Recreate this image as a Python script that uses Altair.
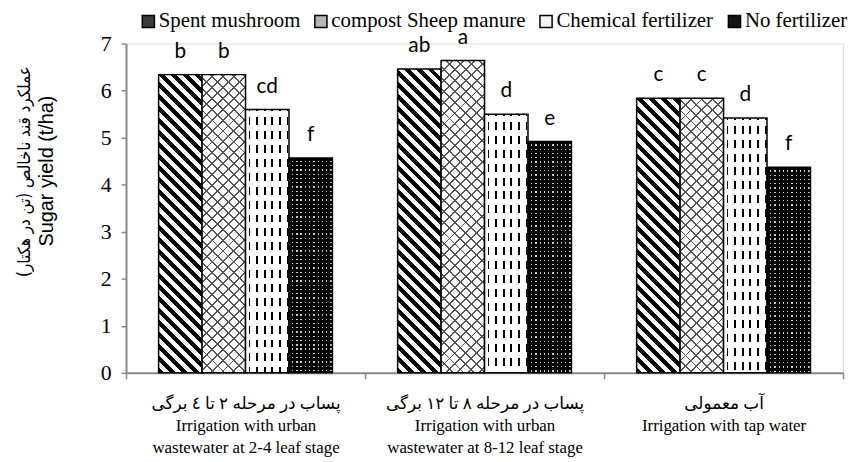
import altair as alt
import pandas as pd

# ---------------- data ----------------
categories = [
    "پساب در مرحله ۲ تا ٤ برگی|Irrigation with urban|wastewater at 2-4 leaf stage",
    "پساب در مرحله ۸ تا ۱۲ برگی|Irrigation with urban|wastewater  at 8-12 leaf stage",
    "آب معمولی|Irrigation with tap water",
]
series = ["Spent mushroom", "compost Sheep manure", "Chemical fertilizer", "No fertilizer"]

spent_vals = [6.34, 6.46, 5.84]
compost_vals = [6.34, 6.64, 5.84]
chem_vals = [5.60, 5.50, 5.42]
nofert_vals = [4.57, 4.92, 4.37]

spent_letters = ["b", "ab", "c"]
compost_letters = ["b", "a", "c"]
chem_letters = ["cd", "d", "d"]
nofert_letters = ["f", "e", "f"]

y_ticks = [0, 1, 2, 3, 4, 5, 6, 7]
y_title_fa = "عملکرد قند ناخالص (تن در هکتار)"
y_title_en = "Sugar yield (t/ha)"

# ---------------- table ----------------
vals = [spent_vals, compost_vals, chem_vals, nofert_vals]
lets = [spent_letters, compost_letters, chem_letters, nofert_letters]
rows = []
for si, s in enumerate(series):
    for ci, c in enumerate(categories):
        rows.append({"cat": c, "series": s, "value": vals[si][ci],
                     "letter": lets[si][ci], "sidx": si, "cidx": ci})
df = pd.DataFrame(rows)

# ---------------- geometry of the plot (style) ----------------
W, H = 723, 332
YMAX = 7
STEP = W / len(categories)
PAD_OUT = 0.75
BAR_W = STEP / (len(series) + 2 * PAD_OUT)
SERIF = "Liberation Serif, Times New Roman, DejaVu Sans"

TR = "rgba(0,0,0,0)"


def stripes(x1, y1, x2, y2, L, period, on_w, c_on, c_off, phase=0.0):
    stops = []
    s = phase - period
    while s < L + period:
        a, b, c = s, s + on_w, s + period
        for off, col in ((a, c_on), (b, c_on), (b, c_off), (c, c_off)):
            t = min(max(off / L, 0.0), 1.0)
            stops.append({"offset": round(t, 5), "color": col})
        s += period
    return {"gradient": "linear", "x1": x1, "y1": y1, "x2": x2, "y2": y2, "stops": stops}


def diag(h, period, on_w, c_on, c_off, back=True):
    w = BAR_W
    L = w + h
    k = (w + h) * w / (w * w + h * h)
    if back:   # "\" stripes
        return stripes(0, 1, k, 1 - k * h / w, L, period, on_w, c_on, c_off)
    return stripes(0, 0, k, k * h / w, L, period, on_w, c_on, c_off)


def vert(period, on_w, c_on, c_off, phase=0.0):
    return stripes(0, 0, 1, 0, BAR_W, period, on_w, c_on, c_off, phase)


def horiz(h, period, on_w, c_on, c_off, phase=0.0):
    return stripes(0, 0, 0, 1, h, period, on_w, c_on, c_off, phase)


x_enc = alt.X("cat:N", sort=categories,
              scale=alt.Scale(domain=categories, paddingInner=0, paddingOuter=0),
              axis=alt.Axis(title=None, labelExpr="split(datum.label, '|')", labelAngle=0,
                            labelFont=SERIF, labelFontSize=17, labelLimit=500,
                            labelLineHeight=22, labelPadding=17, labelColor="black",
                            labelBaseline="top", tickBand="extent", tickSize=6,
                            tickColor="#888", tickWidth=1.5, domainColor="#888",
                            domainWidth=2))
xo_enc = alt.XOffset("series:N", sort=series,
                     scale=alt.Scale(domain=series, paddingInner=0, paddingOuter=PAD_OUT))
y_enc = alt.Y("value:Q", scale=alt.Scale(domain=[0, YMAX], nice=False),
              axis=alt.Axis(values=y_ticks, grid=False, tickSize=5, tickColor="#888",
                            tickWidth=1.5, domainColor="#888", domainWidth=2,
                            labelFont=SERIF, labelFontSize=22,
                            labelColor="black", labelPadding=10,
                            title=y_title_en, titleFont="Liberation Sans",
                            titleFontSize=20, titleFontWeight="normal", titleColor="black",
                            titleX=-80, titleY=128,
                            titleBaseline="middle", titleAlign="center", titleAngle=270))

base = alt.Chart(df).mark_bar(strokeWidth=0).encode(
    x=x_enc, xOffset=xo_enc, y=y_enc,
    fill=alt.Fill("series:N", sort=series,
                  scale=alt.Scale(domain=series,
                                  range=["#3a3a3a", "#b5b5b5", "#f2f2f2", "#151515"]),
                  legend=alt.Legend(title=None, orient="none", legendX=12, legendY=-33,
                                    direction="horizontal", columns=4, columnPadding=10,
                                    labelFont=SERIF, labelFontSize=21,
                                    labelColor="black", labelOffset=0, symbolType="square",
                                    symbolSize=150, symbolStrokeColor="black",
                                    symbolStrokeWidth=1.5, labelLimit=400)),
)

layers = [base]


def bar_layer(ci, si, fill, stroke):
    ch = alt.Chart(df).transform_filter(
        (alt.datum.cidx == ci) & (alt.datum.sidx == si))
    if stroke:
        m = ch.mark_bar(fill=fill, stroke="black", strokeWidth=1.5)
    else:
        m = ch.mark_bar(fill=fill, strokeWidth=0)
    return m.encode(x=x_enc, xOffset=xo_enc, y=y_enc)


for ci in range(len(categories)):
    # Spent mushroom: black "\" stripes on white
    h = spent_vals[ci] / YMAX * H
    layers.append(bar_layer(ci, 0, diag(h, 12, 6, "black", "white", True), True))
    # compost: gray cross-hatch on white
    h = compost_vals[ci] / YMAX * H
    layers.append(bar_layer(ci, 1, diag(h, 11, 1.9, "#555555", "white", True), False))
    layers.append(bar_layer(ci, 1, diag(h, 11, 1.9, "#555555", TR, False), True))
    # Chemical: dashed vertical lines on white
    h = chem_vals[ci] / YMAX * H
    layers.append(bar_layer(ci, 2, vert(7.7, 1.8, "black", "white", 3.0), False))
    layers.append(bar_layer(ci, 2, horiz(h, 14, 6, "white", TR, 2.0), True))
    # No fertilizer: black with small light dots
    h = nofert_vals[ci] / YMAX * H
    layers.append(bar_layer(ci, 3, "#c8c8c8", False))
    layers.append(bar_layer(ci, 3, vert(4.3, 3.0, "black", TR, 0.0), False))
    layers.append(bar_layer(ci, 3, horiz(h, 4.3, 3.0, "black", TR, 0.0), True))

text = alt.Chart(df).mark_text(baseline="alphabetic", dy=-17, font="Lato",
                               fontSize=21, color="black").encode(
    x=x_enc, xOffset=xo_enc, y=y_enc, text="letter:N")
layers.append(text)

chart = alt.layer(*layers).properties(
    width=W, height=H,
    title=alt.TitleParams(text=y_title_fa, orient="left", anchor="middle",
                          font="DejaVu Sans Condensed, DejaVu Sans", fontSize=17,
                          fontWeight="normal", color="black", offset=3, dx=37),
    autosize=alt.AutoSizeParams(type="none"),
    padding={"left": 119, "top": 34, "right": 8, "bottom": 85},
).configure_view(stroke=None).configure(background="white")

chart.save("out.html", embed_options={"renderer": "svg", "actions": False})
